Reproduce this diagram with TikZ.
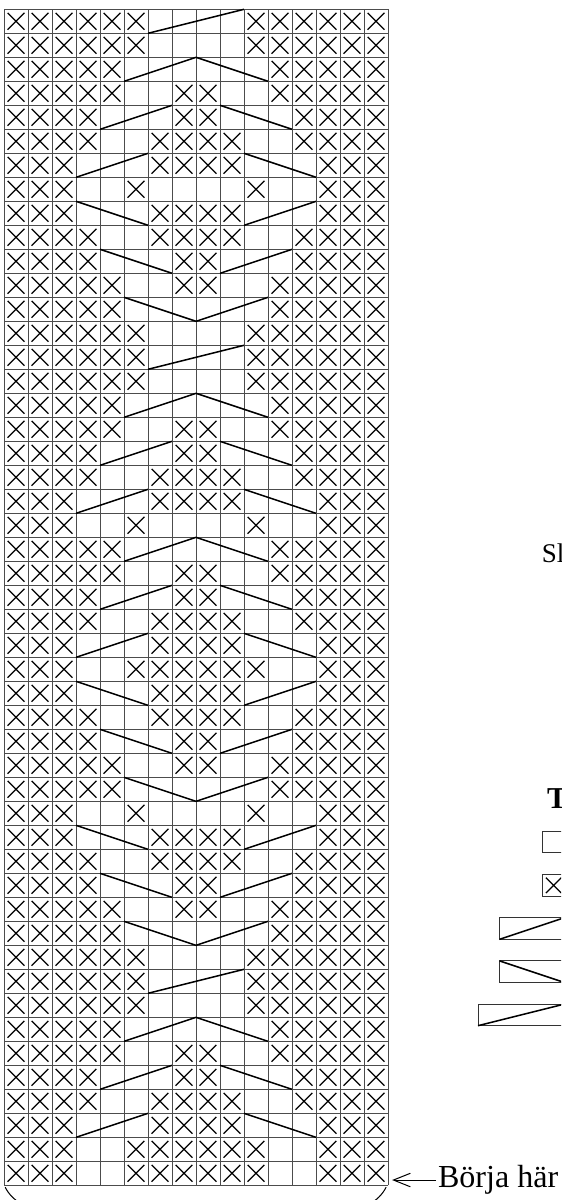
\documentclass[tikz,border=0pt]{standalone}
\usepackage{fontspec}
\setmainfont{Liberation Serif}
\usepackage{tikz}
\usetikzlibrary{arrows.meta}
\usetikzlibrary{decorations.pathreplacing}
\newcommand{\purlcell}[2]{%
	\draw[purl] ({#1-0.85},{-#2+0.15}) -- ({#1-0.15},{-#2+0.85})
		({#1-0.85},{-#2+0.85}) -- ({#1-0.15},{-#2+0.15});}

\begin{document}
\begin{tikzpicture}[
		x=0.5cm, y=0.5cm,
		grid line/.style={draw=black!70, line width=0.5pt},
		purl/.style={draw=black, line width=0.75pt},
		cable/.style={draw=black, line width=0.9pt},
		key box/.style={draw=black!80, line width=0.6pt},
		arrow/.style={-{Straight Barb[length=10pt, width=8pt]}, draw=black, line width=0.6pt},
		label text/.style={font=\fontsize{19}{22}\selectfont, inner sep=1pt},
	]
	\useasboundingbox (-0.167, 0.3875) rectangle (23.208, -49.6125);
	\clip (-0.167, 0.3875) rectangle (23.208, -49.6125);
	% Chart grid
	\draw[grid line] (0,0) grid[step=0.5cm] (16,-49);
	% Purl stitches, left half mirrored to the right
	\foreach \r/\cols in {
			1/{1,2,3,4,5,6}, 2/{1,2,3,4,5,6}, 3/{1,2,3,4,5}, 4/{1,2,3,4,5,8},
			5/{1,2,3,4,8}, 6/{1,2,3,4,7,8}, 7/{1,2,3,7,8}, 8/{1,2,3,6},
			9/{1,2,3,7,8}, 10/{1,2,3,4,7,8}, 11/{1,2,3,4,8}, 12/{1,2,3,4,5,8},
			13/{1,2,3,4,5}, 14/{1,2,3,4,5,6}, 15/{1,2,3,4,5,6}, 16/{1,2,3,4,5,6},
			17/{1,2,3,4,5}, 18/{1,2,3,4,5,8}, 19/{1,2,3,4,8}, 20/{1,2,3,4,7,8},
			21/{1,2,3,7,8}, 22/{1,2,3,6}, 23/{1,2,3,4,5}, 24/{1,2,3,4,5,8},
			25/{1,2,3,4,8}, 26/{1,2,3,4,7,8}, 27/{1,2,3,7,8}, 28/{1,2,3,6,7,8},
			29/{1,2,3,7,8}, 30/{1,2,3,4,7,8}, 31/{1,2,3,4,8}, 32/{1,2,3,4,5,8},
			33/{1,2,3,4,5}, 34/{1,2,3,6}, 35/{1,2,3,7,8}, 36/{1,2,3,4,7,8},
			37/{1,2,3,4,8}, 38/{1,2,3,4,5,8}, 39/{1,2,3,4,5}, 40/{1,2,3,4,5,6},
			41/{1,2,3,4,5,6}, 42/{1,2,3,4,5,6}, 43/{1,2,3,4,5}, 44/{1,2,3,4,5,8},
			45/{1,2,3,4,8}, 46/{1,2,3,4,7,8}, 47/{1,2,3,7,8}, 48/{1,2,3,6,7,8},
			49/{1,2,3,6,7,8}} {
		\foreach \c in \cols {
			\purlcell{\c}{\r}
			\purlcell{17-\c}{\r}
		}
	}
	% Cables
	\foreach \r in {1, 15, 41}
		\draw[cable] (6,-\r) -- (10,-\r+1);
	\foreach \r/\a in {3/5, 17/5, 23/5, 43/5, 5/4, 19/4, 25/4, 45/4, 7/3, 21/3, 27/3, 47/3}
		\draw[cable] (\a,-\r) -- (\a+3,-\r+1) (13-\a,-\r+1) -- (16-\a,-\r);
	\foreach \r/\a in {13/5, 33/5, 39/5, 9/3, 29/3, 35/3, 11/4, 31/4, 37/4}
		\draw[cable] (\a,-\r+1) -- (\a+3,-\r) (13-\a,-\r) -- (16-\a,-\r+1);
	% Brace under the chart
	\draw[decorate, decoration={brace, mirror, amplitude=1cm}, line width=0.6pt] (0.05,-49.08) -- (15.92,-49.08);
	% Start marker
	\coordinate (start tip) at (16.17,-48.78);
	\node[label text, anchor=west] (start label) at (18.0,-48.78) {Börja här};
	\draw[arrow] (start label.west) -- (start tip);
	% Side text
	\node[label text, anchor=base west, font=\fontsize{16}{19}\selectfont] (side label) at (22.33,-23.03) {Sl};
	% Key
	\node[label text, anchor=base west, font=\fontsize{18}{21}\bfseries] (key title) at (22.54,-33.28) {T};
	\draw[key box] (22.45,-34.25) rectangle (23.35,-35.15);
	\draw[key box] (22.45,-36.05) rectangle (23.35,-36.95);
	\draw[purl] (22.58,-36.18) -- (23.22,-36.82) (22.58,-36.82) -- (23.22,-36.18);
	\draw[key box] (20.65,-37.85) rectangle (23.35,-38.75);
	\draw[cable] (20.65,-38.75) -- (23.35,-37.85);
	\draw[key box] (20.65,-39.65) rectangle (23.35,-40.55);
	\draw[cable] (20.65,-39.65) -- (23.35,-40.55);
	\draw[key box] (19.75,-41.45) rectangle (23.35,-42.35);
	\draw[cable] (19.75,-42.35) -- (23.35,-41.45);
\end{tikzpicture}
\end{document}
